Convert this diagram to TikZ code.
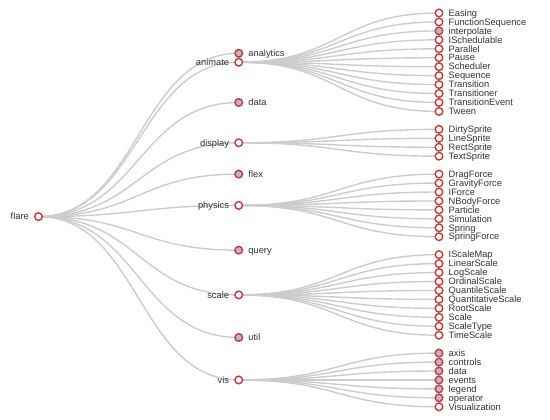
\documentclass[tikz,border=0pt]{standalone}
\usepackage{fontspec}
\setmainfont{Liberation Sans}
\usetikzlibrary{
  calc, % For the control points of the links
  backgrounds % Links behind the circles
}
\definecolor{ringred}{HTML}{D0353A}
\definecolor{foldfill}{HTML}{B6B8CE}
\definecolor{linkgray}{HTML}{CCCCCC}

\begin{document}
\begin{tikzpicture}[
    x=1pt, y=-1pt, % Pixel coordinates, y downwards
    dot/.style={circle, draw=ringred, line width=1.4pt, fill=white,
      minimum size=7.6pt, inner sep=0pt}, % Style for open nodes
    folded/.style={dot, fill=foldfill}, % Style for collapsed nodes
    lbl/.style={font=\fontsize{9.3}{10}\selectfont, text=black!80,
      inner sep=0pt, yshift=-3.25pt}, % Baseline a bit below the centre
    label distance=5pt,
    link/.style={draw=linkgray, line width=1.4pt,
      to path={.. controls ($(\tikztostart)+(100,0)$)
        and ($(\tikztotarget)+(-100,0)$) .. (\tikztotarget)}},
  ]
  \useasboundingbox (0,0) rectangle (550,420);

  % Größen
  \def\vgap{8.95}
  \def\ytop{13}
  \def\xroot{38.5}
  \def\xmid{238.75}
  \def\xleaf{439}

  % Wurzel
  \node[dot, label={[lbl, anchor=base east]left:flare}] (flare)
    at (\xroot, {\ytop+22.75*\vgap}) {};

  % Erste Ebene
  \foreach \n/\k/\s/\side/\anc in {analytics/4.5/folded/right/west,
      animate/5.5/dot/left/east, data/10/folded/right/west,
      display/14.5/dot/left/east, flex/18/folded/right/west,
      physics/21.5/dot/left/east, query/26.5/folded/right/west,
      scale/31.5/dot/left/east, util/36.25/folded/right/west,
      vis/41/dot/left/east}
  \node[\s, label={[lbl, anchor=base \anc]\side:\n}] (\n)
    at (\xmid, {\ytop+\k*\vgap}) {};

  % Blätter: animate
  \foreach \n/\i/\s in {Easing/0/dot, FunctionSequence/1/dot, interpolate/2/folded,
      ISchedulable/3/dot, Parallel/4/dot, Pause/5/dot, Scheduler/6/dot,
      Sequence/7/dot, Transition/8/dot, Transitioner/9/dot,
      TransitionEvent/10/dot, Tween/11/dot}
  \node[\s, label={[lbl, anchor=base west]right:\n}] (animate-\i)
    at (\xleaf, {\ytop+\i*\vgap}) {};

  % Blätter: display
  \foreach \n/\i in {DirtySprite/13, LineSprite/14, RectSprite/15, TextSprite/16}
  \node[dot, label={[lbl, anchor=base west]right:\n}] (display-\i)
    at (\xleaf, {\ytop+\i*\vgap}) {};

  % Blätter: physics
  \foreach \n/\i in {DragForce/18, GravityForce/19, IForce/20, NBodyForce/21,
      Particle/22, Simulation/23, Spring/24, SpringForce/25}
  \node[dot, label={[lbl, anchor=base west]right:\n}] (physics-\i)
    at (\xleaf, {\ytop+\i*\vgap}) {};

  % Blätter: scale
  \foreach \n/\i in {IScaleMap/27, LinearScale/28, LogScale/29, OrdinalScale/30,
      QuantileScale/31, QuantitativeScale/32, RootScale/33, Scale/34,
      ScaleType/35, TimeScale/36}
  \node[dot, label={[lbl, anchor=base west]right:\n}] (scale-\i)
    at (\xleaf, {\ytop+\i*\vgap}) {};

  % Blätter: vis
  \foreach \n/\i/\s in {axis/38/folded, controls/39/folded, data/40/folded,
      events/41/folded, legend/42/folded, operator/43/folded, Visualization/44/dot}
  \node[\s, label={[lbl, anchor=base west]right:\n}] (vis-\i)
    at (\xleaf, {\ytop+\i*\vgap}) {};

  % Verbindungen
  \begin{scope}[on background layer]
    \foreach \n in {analytics, animate, data, display, flex, physics, query,
        scale, util, vis}
    \draw[link] (flare.center) to (\n.center);
    \foreach \g/\a/\b in {animate/0/11, display/13/16, physics/18/25,
        scale/27/36, vis/38/44}
    \foreach \i in {\a,...,\b}
    \draw[link] (\g.center) to (\g-\i.center);
  \end{scope}

\end{tikzpicture}
\end{document}
